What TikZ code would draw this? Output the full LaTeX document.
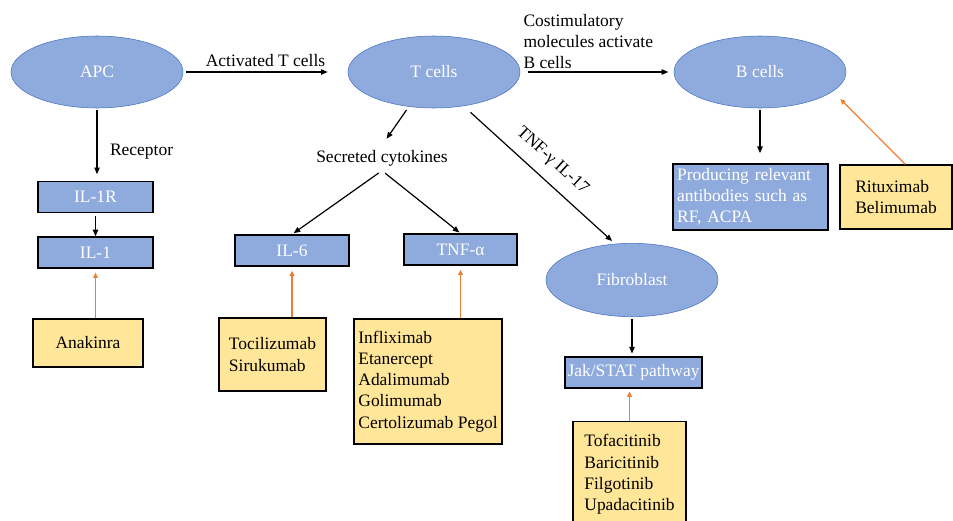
\documentclass[tikz,border=0pt]{standalone}
\usepackage{fontspec}
\setmainfont{Liberation Serif}
\usetikzlibrary{arrows.meta,shapes.geometric}
\definecolor{cellblue}{HTML}{8FAADC}
\definecolor{edgeblue}{HTML}{4472C4}
\definecolor{drugyellow}{HTML}{FFE699}
\definecolor{inhorange}{HTML}{ED7D31}
\begin{document}
\begin{tikzpicture}[x=0.75pt,y=-0.75pt,
    every node/.style={font=\fontsize{13.1}{15.9}\selectfont},
    cell/.style={ellipse,draw=edgeblue,fill=cellblue,text=white,minimum width=129pt,minimum height=54pt},
    bluebox/.style={rectangle,draw=black,line width=1.2pt,fill=cellblue,text=white,inner xsep=1pt,align=left},
    drugbox/.style={rectangle,draw=black,line width=1pt,fill=drugyellow,align=left},
    arr/.style={line width=0.9pt,-{Triangle[length=5pt,width=4pt]}},
    inh/.style={line width=0.9pt,draw=inhorange,-{Triangle[length=4pt,width=3.5pt]},inhorange}]
    \useasboundingbox (0,0) rectangle (953,521);
    % cells
    \node[cell] (apc) at (97,72) {APC};
    \node[cell] (tcell) at (434,72) {T cells};
    \node[cell] (bcell) at (760,72) {B cells};
    \node[cell,minimum height=55pt] (fibro) at (632,280) {Fibroblast};
    % receptors and cytokines
    \node[bluebox,minimum width=86pt,minimum height=23pt] (ilr) at (95.5,197) {IL-1R};
    \node[bluebox,minimum width=86pt,minimum height=23pt] (ilone) at (95.5,252.5) {IL-1};
    \node[bluebox,minimum width=85.5pt,minimum height=23pt] (ilsix) at (292,250.5) {IL-6};
    \node[bluebox,minimum width=85pt,minimum height=23pt] (tnfa) at (460.5,249.5) {TNF-α};
    \node[bluebox,minimum width=114.75pt,minimum height=48pt,text width=110pt,inner xsep=3pt] (antib) at (750.5,197) {Producing relevant\\antibodies such as\\RF, ACPA};
    \node[bluebox,minimum width=102.75pt,minimum height=23.25pt] (jak) at (633.5,372.5) {Jak/STAT pathway};
    % drugs
    \node[drugbox,minimum width=82.5pt,minimum height=36pt] (anak) at (88,343) {Anakinra};
    \node[drugbox,minimum width=80.25pt,minimum height=54.75pt] (toci) at (272.5,354.5) {Tocilizumab\\Sirukumab};
    \node[drugbox,minimum width=111pt,minimum height=93.75pt] (infli) at (428,381.5) {Infliximab\\Etanercept\\Adalimumab\\Golimumab\\Certolizumab Pegol};
    \node[drugbox,minimum width=84.75pt,minimum height=80pt] (tofa) at (629.5,474.5) {Tofacitinib\\Baricitinib\\Filgotinib\\Upadacitinib};
    \node[drugbox,minimum width=84pt,minimum height=48pt] (ritux) at (896,197) {Rituximab\\Belimumab};
    \node (cyto) at (382,158) {Secreted cytokines};
    % pathway arrows
    \draw[arr,shorten <=2pt,shorten >=15pt] (apc.east) -- node[above] {Activated T cells} (tcell.west);
    \draw[arr,shorten <=6pt,shorten >=4pt] (tcell.east) -- node[pos=0,anchor=south west,inner sep=2pt,align=left] {Costimulatory\\molecules activate\\B cells} (bcell.west);
    \draw[arr,shorten <=1.5pt,shorten >=5pt] (apc.south) -- node[pos=0.6,right,xshift=6pt] {Receptor} (apc.south |- ilr.north);
    \draw[arr,shorten <=2pt] (ilr.south) -- (ilone.north);
    \draw[arr,shorten <=3pt,shorten >=6pt] (tcell.234) -- (cyto.north);
    \draw[arr,shorten <=3pt,shorten >=1.5pt] (cyto.south) -- (ilsix.north);
    \draw[arr,shorten <=3pt,shorten >=1pt] (cyto.south) -- (tnfa.north);
    \draw[arr,shorten <=7pt,shorten >=3pt] (tcell.311) -- node[midway,sloped,above=5pt] {TNF-γ IL-17} (fibro.115);
    \draw[arr,shorten <=1.5pt,shorten >=7.5pt] (bcell.south) -- (bcell.south |- antib.north);
    \draw[arr,shorten <=1.5pt,shorten >=2pt] (fibro.south) -- (fibro.south |- jak.north);
    % inhibitors
    \draw[inh,shorten >=3pt] (anak.north -| ilone.south) -- (ilone.south);
    \draw[inh,shorten >=3pt] (toci.north -| ilsix.south) -- (ilsix.south);
    \draw[inh,shorten >=3pt] (infli.north -| tnfa.south) -- (tnfa.south);
    \draw[inh,shorten >=2pt] (tofa.north) -- (tofa.north |- jak.south);
    \draw[inh,shorten >=8pt] ([xshift=7pt]ritux.north) -- (bcell.345);
\end{tikzpicture}
\end{document}
